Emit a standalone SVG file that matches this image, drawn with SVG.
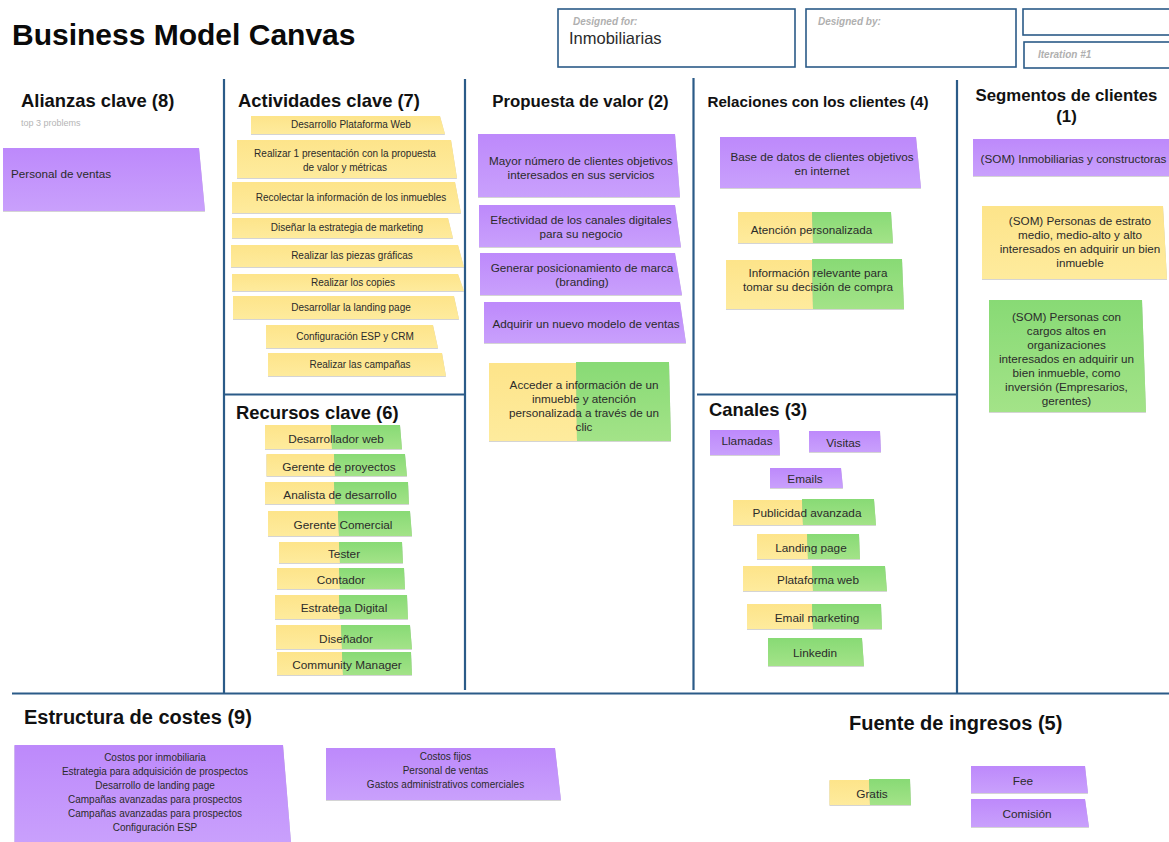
<svg xmlns="http://www.w3.org/2000/svg" width="1169" height="842" viewBox="0 0 1169 842">
<style>
text{font-family:"Liberation Sans",Arial,sans-serif;fill:#2b2b2b;font-size:11.700px}
.m{text-anchor:middle}
.t{font-size:10px}
.s{font-size:11.800px}
.h{font-weight:bold;font-size:18.400px;fill:#111}
.hl{font-weight:bold;font-size:20px;fill:#111}
.h2{font-weight:bold;font-size:16.800px;fill:#111}
.l{font-style:italic;font-weight:bold;font-size:10px;fill:#b0b0b0}
.b{fill:#fff;stroke:#2b5b88;stroke-width:1.6}
.d{stroke:#2b5b88;stroke-width:2.2;fill:none}
.p{fill:url(#gp);filter:url(#sh)}
.y{fill:url(#gy);filter:url(#sh)}
.g{fill:url(#gg);filter:url(#sh)}
</style>
<defs>
<linearGradient id="gp" x1="0" y1="0" x2="0" y2="1"><stop offset="0" stop-color="#bd89fb"/><stop offset="1" stop-color="#c9a0fc"/></linearGradient>
<linearGradient id="gy" x1="0" y1="0" x2="0" y2="1"><stop offset="0" stop-color="#fde48a"/><stop offset="1" stop-color="#feeb9d"/></linearGradient>
<linearGradient id="gg" x1="0" y1="0" x2="0" y2="1"><stop offset="0" stop-color="#88da75"/><stop offset="1" stop-color="#a3e388"/></linearGradient>
<filter id="sh" x="-5%" y="-10%" width="110%" height="125%"><feDropShadow dx="0" dy="0.6" stdDeviation="0.5" flood-color="#888" flood-opacity="0.6"/></filter>
</defs>
<rect width="1169" height="842" fill="#fff"/>
<g id="header">
<text x="12" y="45" style="font-weight:bold;font-size:30px;fill:#0a0a0a">Business Model Canvas</text>
<rect class="b" x="558" y="9" width="237" height="58"/>
<text class="l" x="573" y="25">Designed for:</text>
<text x="569" y="44" style="font-size:16.500px">Inmobiliarias</text>
<rect class="b" x="806" y="9" width="210" height="58"/>
<text class="l" x="818" y="25">Designed by:</text>
<rect class="b" x="1023" y="9" width="160" height="26"/>
<rect class="b" x="1024" y="42" width="160" height="26"/>
<text class="l" x="1038" y="58">Iteration #1</text>
</g>
<g id="connectors">
<path class="d" d="M224 79V693M465 79V690M693.500 78V690M957 80V693M224 394.500H465M697 394.500H957M12 693.500H1169"/>
</g>
<g id="alianzas">
<text class="h" x="21" y="107">Alianzas clave (8)</text>
<text x="21" y="126" style="font-size:9px;fill:#b5b5b5">top 3 problems</text>
<g id="n-personal"><polygon class="p" points="3,148 199,148 205,211 3,211"/><text x="11" y="178">Personal de ventas</text></g>
</g>
<g id="actividades">
<text class="h" x="238" y="107">Actividades clave (7)</text>
<g id="a1"><polygon class="y" points="251,116 440,116 445,134 251,134"/><text class="m t" x="351" y="128">Desarrollo Plataforma Web</text></g>
<g id="a2"><polygon class="y" points="237,140 451,140 457,178 237,178"/><text class="m t" x="345" y="157">Realizar 1 presentación con la propuesta</text><text class="m t" x="345" y="171">de valor y métricas</text></g>
<g id="a3"><polygon class="y" points="232,182 455,182 461,213 232,213"/><text class="m t" x="351" y="201">Recolectar la información de los inmuebles</text></g>
<g id="a4"><polygon class="y" points="232,218 448,218 453,238 232,238"/><text class="m t" x="347" y="231">Diseñar la estrategia de marketing</text></g>
<g id="a5"><polygon class="y" points="231,245 458,245 464,267 231,267"/><text class="m t" x="352" y="259">Realizar las piezas gráficas</text></g>
<g id="a6"><polygon class="y" points="232,274 458,274 464,291 232,291"/><text class="m t" x="353" y="286">Realizar los copies</text></g>
<g id="a7"><polygon class="y" points="233,296 454,296 459,319 233,319"/><text class="m t" x="351" y="311">Desarrollar la landing page</text></g>
<g id="a8"><polygon class="y" points="266,325 433,325 438,348 266,348"/><text class="m t" x="355" y="340">Configuración ESP y CRM</text></g>
<g id="a9"><polygon class="y" points="268,353 442,353 446,376 268,376"/><text class="m t" x="360" y="368">Realizar las campañas</text></g>
</g>
<g id="recursos">
<text class="h" x="236" y="419">Recursos clave (6)</text>
<g id="r1"><polygon class="y" points="265,425 332,425 332,449 265,449"/><polygon class="g" points="331,425 400,425 402,449 332,449"/><text class="m s" x="336" y="443">Desarrollador web</text></g>
<g id="r2"><polygon class="y" points="266.500,454 335,454 335,476 266.500,476"/><polygon class="g" points="334,454 405,454 407,476 335,476"/><text class="m s" x="339" y="471">Gerente de proyectos</text></g>
<g id="r3"><polygon class="y" points="265,482 335,482 335,504 265,504"/><polygon class="g" points="334,482 408,482 409,504 335,504"/><text class="m s" x="340" y="499">Analista de desarrollo</text></g>
<g id="r4"><polygon class="y" points="268,511 339,511 339,536 268,536"/><polygon class="g" points="338,511 410,511 412,536 339,536"/><text class="m s" x="343" y="529">Gerente Comercial</text></g>
<g id="r5"><polygon class="y" points="279,542 340,542 340,563 279,563"/><polygon class="g" points="339,542 402,542 403,563 340,563"/><text class="m s" x="344" y="558">Tester</text></g>
<g id="r6"><polygon class="y" points="277,568 340,568 340,589 277,589"/><polygon class="g" points="339,568 404,568 405,589 340,589"/><text class="m s" x="341" y="584">Contador</text></g>
<g id="r7"><polygon class="y" points="275,595 340,595 340,619 275,619"/><polygon class="g" points="339,595 407,595 408,619 340,619"/><text class="m s" x="344" y="612">Estratega Digital</text></g>
<g id="r8"><polygon class="y" points="276,625 342,625 342,649 276,649"/><polygon class="g" points="341,625 410,625 412,649 342,649"/><text class="m s" x="346" y="643">Diseñador</text></g>
<g id="r9"><polygon class="y" points="277,652 343,652 343,675 277,675"/><polygon class="g" points="342,652 411,652 412,675 343,675"/><text class="m s" x="347" y="669">Community Manager</text></g>
</g>
<g id="propuesta">
<text class="h2 m" x="580.500" y="107">Propuesta de valor (2)</text>
<g id="v1"><polygon class="p" points="478,134 675,134 680,197 478,197"/><text class="m" x="581" y="165">Mayor número de clientes objetivos</text><text class="m" x="581" y="179">interesados en sus servicios</text></g>
<g id="v2"><polygon class="p" points="479,205 675,205 681,247 479,247"/><text class="m" x="581" y="224">Efectividad de los canales digitales</text><text class="m" x="581" y="238">para su negocio</text></g>
<g id="v3"><polygon class="p" points="480,253 675,253 682,295 480,295"/><text class="m" x="582" y="272">Generar posicionamiento de marca</text><text class="m" x="582" y="286">(branding)</text></g>
<g id="v4"><polygon class="p" points="484,302 680,302 686,343 484,343"/><text class="m" x="586" y="328">Adquirir un nuevo modelo de ventas</text></g>
<g id="v5"><polygon class="y" points="489,363 577,363 577,441 489,441"/><polygon class="g" points="576,362 669,362 671,441 577,441"/><text class="m" x="584" y="389">Acceder a información de un</text><text class="m" x="584" y="403">inmueble y atención</text><text class="m" x="584" y="417">personalizada a través de un</text><text class="m" x="584" y="431">clic</text></g>
</g>
<g id="relaciones">
<text class="m" x="818" y="107" style="font-weight:bold;font-size:15.200px;fill:#111">Relaciones con los clientes (4)</text>
<g id="c1"><polygon class="p" points="720,137 916,137 921,188 720,188"/><text class="m" x="822" y="161">Base de datos de clientes objetivos</text><text class="m" x="822" y="175">en internet</text></g>
<g id="c2"><polygon class="y" points="738,212 813,212 813,243 738,243"/><polygon class="g" points="812,212 891,212 893,243 813,243"/><text class="m" x="811.500" y="234">Atención personalizada</text></g>
<g id="c3"><polygon class="y" points="726,260 813,260 813,309 726,309"/><polygon class="g" points="812,259 902,259 904,309 813,309"/><text class="m" x="818" y="277">Información relevante para</text><text class="m" x="818" y="291">tomar su decisión de compra</text></g>
</g>
<g id="canales">
<text class="h" x="709" y="416">Canales (3)</text>
<g id="k1"><polygon class="p" points="710,430 779,430 780,455 710,455"/><text class="m s" x="747" y="445">Llamadas</text></g>
<g id="k2"><polygon class="p" points="809,431 880,431 881,452 809,452"/><text class="m s" x="843.500" y="447">Visitas</text></g>
<g id="k3"><polygon class="p" points="770,468 841,468 843,488 770,488"/><text class="m s" x="805" y="483">Emails</text></g>
<g id="k4"><polygon class="y" points="733,500 803,500 803,525 733,525"/><polygon class="g" points="802,499 874,499 876,525 803,525"/><text class="m s" x="807" y="517">Publicidad avanzada</text></g>
<g id="k5"><polygon class="y" points="757,534 808,534 808,559 757,559"/><polygon class="g" points="807,534 859,534 860,559 808,559"/><text class="m s" x="811" y="552">Landing page</text></g>
<g id="k6"><polygon class="y" points="743,566 813,566 813,591 743,591"/><polygon class="g" points="812,566 885,566 887,591 813,591"/><text class="m s" x="818" y="584">Plataforma web</text></g>
<g id="k7"><polygon class="y" points="747,604 813,604 813,629 747,629"/><polygon class="g" points="812,604 881,604 882,629 813,629"/><text class="m s" x="817" y="622">Email marketing</text></g>
<g id="k8"><polygon class="g" points="768,638 862,638 864,666 768,666"/><text class="m s" x="815" y="657">Linkedin</text></g>
</g>
<g id="segmentos">
<text class="h2 m" x="1066.500" y="101">Segmentos de clientes</text>
<text class="h2 m" x="1066.500" y="122">(1)</text>
<g id="s1"><polygon class="p" points="973,139 1169,139 1169,176 973,176"/><text class="m" x="1073.500" y="163">(SOM) Inmobiliarias y constructoras</text></g>
<g id="s2"><polygon class="y" points="982,206 1163,206 1167,279 982,279"/><text class="m" x="1080" y="225">(SOM) Personas de estrato</text><text class="m" x="1080" y="239">medio, medio-alto y alto</text><text class="m" x="1080" y="253">interesados en adquirir un bien</text><text class="m" x="1080" y="267">inmueble</text></g>
<g id="s3"><polygon class="g" points="989,300 1142,300 1146,412 989,412"/><text class="m" x="1066.500" y="321">(SOM) Personas con</text><text class="m" x="1066.500" y="335">cargos altos en</text><text class="m" x="1066.500" y="349">organizaciones</text><text class="m" x="1066.500" y="363">interesados en adquirir un</text><text class="m" x="1066.500" y="377">bien inmueble, como</text><text class="m" x="1066.500" y="391">inversión (Empresarios,</text><text class="m" x="1066.500" y="405">gerentes)</text></g>
</g>
<g id="costes">
<text class="hl" x="24" y="724">Estructura de costes (9)</text>
<g id="e1"><polygon class="p" points="14.500,745 283,745 291,842 14.500,842"/><text class="m t" x="155" y="760.500">Costos por inmobiliaria</text><text class="m t" x="155" y="774.500">Estrategia para adquisición de prospectos</text><text class="m t" x="155" y="788.500">Desarrollo de landing page</text><text class="m t" x="155" y="802.500">Campañas avanzadas para prospectos</text><text class="m t" x="155" y="816.500">Campañas avanzadas para prospectos</text><text class="m t" x="155" y="830.500">Configuración ESP</text></g>
<g id="e2"><polygon class="p" points="326,748 555,748 561,800 326,800"/><text class="m t" x="445.500" y="759.500">Costos fijos</text><text class="m t" x="445.500" y="773.500">Personal de ventas</text><text class="m t" x="445.500" y="787.500">Gastos administrativos comerciales</text></g>
</g>
<g id="ingresos">
<text class="hl" x="849" y="730">Fuente de ingresos (5)</text>
<g id="i1"><polygon class="y" points="829.500,780 870,780 870,805 829.500,805"/><polygon class="g" points="869,779 910,779 911,805 870,805"/><text class="m s" x="872" y="798">Gratis</text></g>
<g id="i2"><polygon class="p" points="971,766 1085,766 1088,793 971,793"/><text class="m s" x="1023" y="785">Fee</text></g>
<g id="i3"><polygon class="p" points="971,799 1085,799 1089,827 971,827"/><text class="m s" x="1027" y="818">Comisión</text></g>
</g>
</svg>
